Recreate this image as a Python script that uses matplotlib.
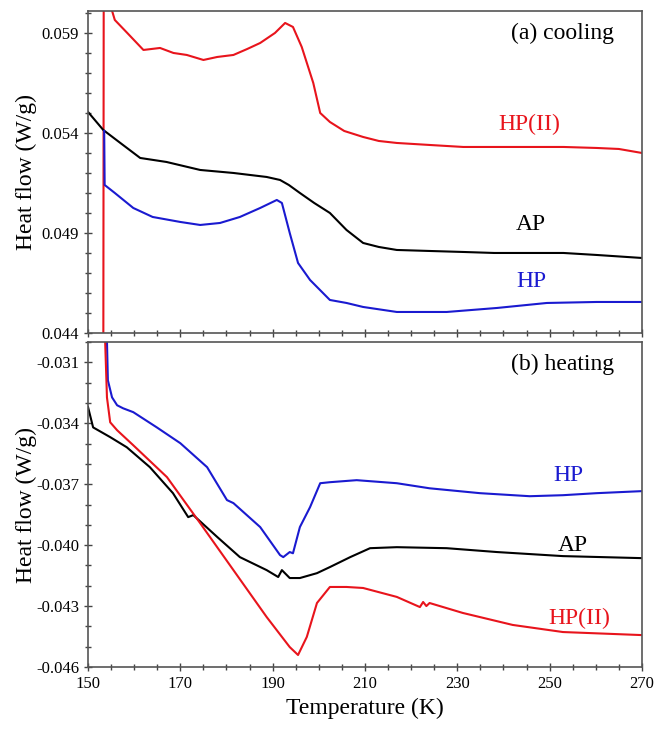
import matplotlib
matplotlib.use("Agg")
import matplotlib.pyplot as plt
from matplotlib.ticker import MultipleLocator, FormatStrFormatter

plt.rcParams['font.family'] = ['Liberation Serif', 'DejaVu Serif']

# ---------------- data: (a) cooling ----------------
cool_hp2_T = [153.3, 153.4, 155.8, 158.5, 162.0, 165.6, 168.5, 171.4, 175.0, 178.0, 181.5,
              184.5, 187.3, 190.5, 192.7, 194.4, 196.3, 198.8, 200.3, 202.4, 205.5, 209.6,
              213.0, 216.9, 224.0, 231.3, 238.0, 245.7, 253.0, 260.2, 265.0, 270.0]
cool_hp2_Q = [0.0400, 0.0615, 0.05965, 0.0590, 0.05815, 0.05825, 0.0580, 0.0579, 0.05765, 0.0578, 0.0579,
              0.0582, 0.0585, 0.0590, 0.0595, 0.0593, 0.0583, 0.0565, 0.0550, 0.05455, 0.0541, 0.0538,
              0.0536, 0.0535, 0.0534, 0.0533, 0.0533, 0.0533, 0.0533, 0.05325, 0.0532, 0.0530]

cool_ap_T = [150.0, 153.3, 157.0, 161.3, 167.0, 174.3, 181.5, 188.7, 191.6, 193.5, 195.9,
             199.0, 202.4, 206.0, 209.6, 213.0, 216.9, 224.0, 231.3, 238.0, 245.7, 253.0, 260.2, 270.0]
cool_ap_Q = [0.05505, 0.05415, 0.0535, 0.05275, 0.05255, 0.05215, 0.0520, 0.0518, 0.05165, 0.0514, 0.0510,
             0.0505, 0.0500, 0.04915, 0.0485, 0.0483, 0.04815, 0.0481, 0.04805, 0.0480, 0.0480, 0.0480, 0.0479, 0.04775]

cool_hp_T = [153.5, 153.6, 155.8, 159.8, 164.0, 170.0, 174.3, 178.6, 182.9, 187.3, 190.9,
             192.0, 193.7, 195.5, 198.1, 202.4, 206.0, 209.6, 216.9, 227.7, 238.6, 249.4, 260.2, 270.0]
cool_hp_Q = [0.0541, 0.0514, 0.0510, 0.05025, 0.0498, 0.04955, 0.0494, 0.0495, 0.0498, 0.05025, 0.05065,
             0.0505, 0.0490, 0.0475, 0.04665, 0.04565, 0.0455, 0.0453, 0.04505, 0.04505, 0.04525, 0.0455, 0.04555, 0.04555]

# ---------------- data: (b) heating ----------------
heat_hp_T = [154.0, 154.3, 155.2, 156.3, 157.6, 159.8, 164.9, 170.0, 175.8, 180.1, 181.5,
             187.3, 191.6, 192.3, 193.7, 194.4, 195.9, 198.1, 200.3, 202.4, 208.2, 216.9,
             224.0, 234.9, 245.7, 252.9, 260.2, 270.0]
heat_hp_Q = [-0.0290, -0.03188, -0.03272, -0.03311, -0.03326, -0.03345, -0.0342, -0.03498, -0.03616, -0.03778, -0.03793,
             -0.03911, -0.04049, -0.04059, -0.04034, -0.0404, -0.03911, -0.03813, -0.03695, -0.0369, -0.0368, -0.03695,
             -0.0372, -0.03744, -0.03759, -0.03754, -0.03744, -0.03734]

heat_ap_T = [150.0, 151.1, 154.8, 158.4, 163.4, 168.4, 171.7, 172.8, 178.0, 182.9, 188.7,
             191.2, 192.0, 193.7, 195.9, 199.6, 202.4, 206.8, 211.1, 216.9, 227.7, 238.6, 252.9, 270.0]
heat_ap_Q = [-0.0332, -0.0342, -0.03468, -0.03518, -0.03616, -0.03744, -0.03862, -0.03852, -0.0396, -0.04059, -0.04123,
             -0.04157, -0.04123, -0.04162, -0.04162, -0.04138, -0.04108, -0.04059, -0.04015, -0.0401, -0.04015, -0.04034, -0.04054, -0.04064]

heat_hp2_T = [153.5, 154.1, 154.8, 156.3, 159.8, 167.1, 174.3, 181.5, 188.7, 193.7, 195.5,
              197.4, 199.6, 202.4, 206.0, 209.6, 216.9, 221.9, 222.6, 223.3, 224.0, 231.2, 242.0, 252.9, 270.0]
heat_hp2_Q = [-0.0285, -0.03272, -0.03395, -0.03434, -0.03508, -0.03665, -0.03892, -0.04123, -0.04354, -0.04502, -0.04541,
              -0.04452, -0.04285, -0.04206, -0.04206, -0.04211, -0.04255, -0.04305, -0.04280, -0.04300, -0.04285, -0.04334, -0.04393, -0.04428, -0.04443]

x_ticks = [150, 170, 190, 210, 230, 250, 270]
top_y_ticks = [0.044, 0.049, 0.054, 0.059]
bot_y_ticks = [-0.046, -0.043, -0.040, -0.037, -0.034, -0.031]

RED = '#e8141c'
BLUE = '#1a1ad0'
BLACK = '#000000'
LW = 1.5

fig = plt.figure(figsize=(6.55, 7.31), dpi=100)
ax1 = fig.add_axes([0.1344, 0.5445, 0.8456, 0.4405])
ax2 = fig.add_axes([0.1344, 0.0876, 0.8456, 0.4444])

ax1.plot(cool_hp2_T, cool_hp2_Q, color=RED, lw=LW)
ax1.plot(cool_ap_T, cool_ap_Q, color=BLACK, lw=LW)
ax1.plot(cool_hp_T, cool_hp_Q, color=BLUE, lw=LW)

ax2.plot(heat_hp_T, heat_hp_Q, color=BLUE, lw=LW)
ax2.plot(heat_ap_T, heat_ap_Q, color=BLACK, lw=LW)
ax2.plot(heat_hp2_T, heat_hp2_Q, color=RED, lw=LW)

ax1.set_ylim(0.044, 0.0601)
ax2.set_ylim(-0.046, -0.0300)
for ax in (ax1, ax2):
    ax.set_xlim(150, 270)
    ax.set_xticks(x_ticks)
    ax.xaxis.set_minor_locator(MultipleLocator(5))
    ax.yaxis.set_minor_locator(MultipleLocator(0.001))
    ax.yaxis.set_major_formatter(FormatStrFormatter('%.3f'))
    ax.tick_params(which='major', direction='inout', length=6, width=1, labelsize=12,
                   top=False, right=False, color='#444444')
    ax.tick_params(which='minor', direction='inout', length=4, width=1,
                   top=False, right=False, color='#444444')
    for s in ax.spines.values():
        s.set_color('#555555')
        s.set_linewidth(1.2)
    ax.set_ylabel('Heat flow (W/g)', fontsize=17)
    ax.yaxis.set_label_coords(-0.092, 0.5)

ax1.set_yticks(top_y_ticks)
ax1.tick_params(labelbottom=False)
ax2.set_yticks(bot_y_ticks)
ax2.set_xlabel('Temperature (K)', fontsize=17, labelpad=4)

ax1.text(0.95, 0.93, '(a) cooling', transform=ax1.transAxes, fontsize=17, ha='right', va='center')
ax1.text(245.5, 0.05445, 'HP(II)', color=RED, fontsize=17, ha='center', va='center')
ax1.text(246, 0.0494, 'AP', color=BLACK, fontsize=17, ha='center', va='center')
ax1.text(246, 0.04655, 'HP', color=BLUE, fontsize=17, ha='center', va='center')

ax2.text(0.95, 0.93, '(b) heating', transform=ax2.transAxes, fontsize=17, ha='right', va='center')
ax2.text(254, -0.03655, 'HP', color=BLUE, fontsize=17, ha='center', va='center')
ax2.text(255, -0.0400, 'AP', color=BLACK, fontsize=17, ha='center', va='center')
ax2.text(256.5, -0.04360, 'HP(II)', color=RED, fontsize=17, ha='center', va='center')

fig.savefig('out.png', dpi=100)
